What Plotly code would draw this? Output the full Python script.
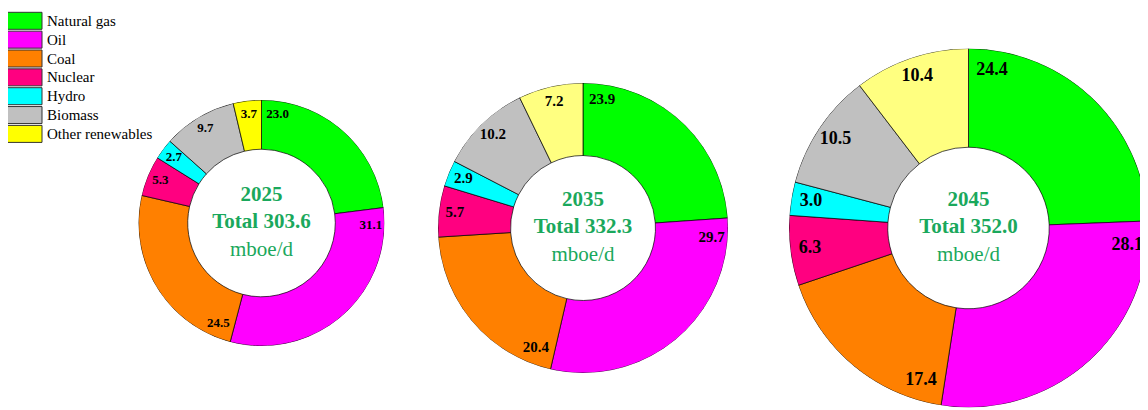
import plotly.graph_objects as go

# ---------------- data ----------------
categories = ["Natural gas", "Oil", "Coal", "Nuclear", "Hydro", "Biomass", "Other renewables"]
years = ["2025", "2035", "2045"]
totals = [303.6, 332.3, 352.0]
share_2025 = [23.0, 31.1, 24.5, 5.3, 2.7, 9.7, 3.7]
share_2035 = [23.9, 29.7, 20.4, 5.7, 2.9, 10.2, 7.2]
share_2045 = [24.4, 28.1, 17.4, 6.3, 3.0, 10.5, 10.4]
colors_2025 = ["#00FF00", "#FF00FF", "#FF8000", "#FF0080", "#00FFFF", "#C0C0C0", "#FFFF00"]
colors_later = ["#00FF00", "#FF00FF", "#FF8000", "#FF0080", "#00FFFF", "#C0C0C0", "#FFFF80"]

shares = [share_2025, share_2035, share_2045]
palettes = [colors_2025, colors_later, colors_later]

# ---------------- layout constants ----------------
PAGE_OFF = 8          # default body margin of the html page
W, H = 1148 - PAGE_OFF, 410 - PAGE_OFF
FONT = "Liberation Serif"
CENTER_COLOR = "#1AA85C"
# geometry in page pixels
geoms = [
    dict(cx=261.5, cy=223.0, R=123.0, hole=0.60, fs=13),
    dict(cx=583.0, cy=228.0, R=145.0, hole=0.50, fs=15),
    dict(cx=968.5, cy=228.0, R=179.5, hole=0.45, fs=18),
]

fig = go.Figure()
layout_polars = {}

for i, (vals, cols, g) in enumerate(zip(shares, palettes, geoms)):
    pname = "polar" if i == 0 else f"polar{i + 1}"
    total = sum(vals)
    scale = 360.0 / total
    widths, mids, label_theta = [], [], []
    acc = 0.0
    for v in vals:
        w = v * scale
        widths.append(w)
        mids.append(acc + w / 2)
        # big slices: label near the leading edge; small slices: centred
        label_theta.append(acc + (w / 2 if w < 60 else 8.5))
        acc += w

    fig.add_trace(go.Barpolar(
        theta=mids, width=widths,
        r=[1 - g["hole"]] * len(vals), base=[g["hole"]] * len(vals),
        marker=dict(color=cols, line=dict(color="#000000", width=0.7)),
        name=years[i], showlegend=False, subplot=pname,
        hovertext=categories, hoverinfo="text",
    ))
    fig.add_trace(go.Scatterpolar(
        theta=label_theta, r=[0.89] * len(vals), mode="text",
        text=[f"<b>{v:.1f}</b>" for v in vals],
        textfont=dict(family=FONT, size=g["fs"], color="#000000"),
        textposition="middle center", showlegend=False, subplot=pname,
        hoverinfo="skip",
    ))
    fig.add_trace(go.Scatterpolar(
        theta=[0], r=[0], mode="text",
        text=[f"<b>{years[i]}</b><br><b>Total {totals[i]:.1f}</b><br>mboe/d"],
        textfont=dict(family=FONT, size=21, color=CENTER_COLOR),
        textposition="middle center", showlegend=False, subplot=pname,
        hoverinfo="skip",
    ))

    cx, cy = g["cx"] - PAGE_OFF, g["cy"] - PAGE_OFF
    x0 = max(0.0, (cx - g["R"]) / W)
    x1 = min(1.0, (cx + g["R"]) / W)
    y0 = max(0.0, 1 - (cy + g["R"]) / H)
    y1 = min(1.0, 1 - (cy - g["R"]) / H)
    layout_polars[pname] = dict(
        domain=dict(x=[x0, x1], y=[y0, y1]),
        bgcolor="rgba(0,0,0,0)",
        hole=0,
        bargap=0,
        radialaxis=dict(visible=False, range=[0, 1]),
        angularaxis=dict(visible=False, rotation=90, direction="clockwise"),
    )

# ---------------- custom legend ----------------
shapes, annotations = [], []
for k, (cat, col) in enumerate(zip(categories, colors_2025)):
    top = 12.3 + k * 18.85 - PAGE_OFF
    shapes.append(dict(
        type="rect", xref="paper", yref="paper",
        x0=(7.5 - PAGE_OFF) / W, x1=(42 - PAGE_OFF) / W,
        y0=1 - (top + 17) / H, y1=1 - top / H,
        fillcolor=col, line=dict(color="#333333", width=1),
    ))
    annotations.append(dict(
        text=cat, xref="paper", yref="paper", x=(45 - PAGE_OFF) / W, y=1 - (top + 8.5) / H,
        xanchor="left", yanchor="middle", showarrow=False,
        font=dict(family=FONT, size=15, color="#000000"),
    ))

fig.update_layout(
    width=W, height=H,
    margin=dict(l=0, r=0, t=0, b=0),
    paper_bgcolor="#FFFFFF", plot_bgcolor="#FFFFFF",
    template="none",
    showlegend=False,
    shapes=shapes, annotations=annotations,
    **layout_polars,
)

fig.write_html("out.html")
